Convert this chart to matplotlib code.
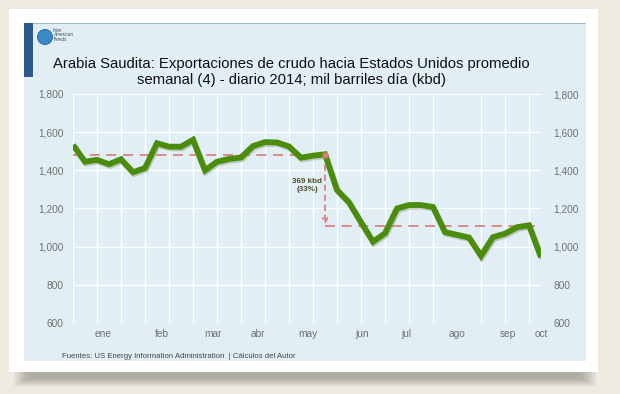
import matplotlib
matplotlib.use("Agg")
import matplotlib.pyplot as plt
import matplotlib.patches as mpatches
import matplotlib.patheffects as pe
import numpy as np

plt.rcParams['font.family'] = ['Liberation Sans', 'DejaVu Sans']

# ---- data ----
weekly_kbd = [1533, 1445, 1455, 1432, 1458, 1390, 1412, 1542, 1524, 1524,
              1560, 1400, 1445, 1460, 1467, 1527, 1548, 1546, 1525, 1466,
              1477, 1484, 1297, 1232, 1128, 1026, 1070, 1200, 1218, 1218,
              1208, 1076, 1062, 1048, 952, 1050, 1068, 1102, 1112, 945]
month_labels = ['ene', 'feb', 'mar', 'abr', 'may', 'jun', 'jul', 'ago', 'sep', 'oct']
month_pos = [2.5, 7.4, 11.7, 15.4, 19.6, 24.1, 27.8, 32.0, 36.2, 39.0]
y_ticks = [600, 800, 1000, 1200, 1400, 1600, 1800]
avg_before = 1479
avg_after = 1110
break_idx = 21
title = ("Arabia Saudita: Exportaciones de crudo hacia Estados Unidos promedio\n"
         "semanal (4) - diario 2014; mil barriles día (kbd)")
note = "369 kbd\n(33%)"
source = "Fuentes: US Energy Information Administration  | Cálculos del Autor"

W, H = 620, 394
fig = plt.figure(figsize=(W / 100, H / 100), dpi=100)
fig.patch.set_facecolor('#eeeae0')

def rect(x0, y0, x1, y1, **kw):
    # pixel coords with y from top
    r = mpatches.Rectangle((x0 / W, 1 - y1 / H), (x1 - x0) / W, (y1 - y0) / H,
                           transform=fig.transFigure, **kw)
    fig.patches.append(r)
    return r

# card shadow (soft)
for i in range(8):
    rect(14 + 2 * i, 368, 596 - 2 * i, 386 - i, facecolor='#6a6a6a', alpha=0.07,
         edgecolor='none', zorder=0)
rect(9, 9, 598, 372, facecolor='white', edgecolor='none', zorder=1)
rect(24, 23, 586, 361, facecolor='#e1eff5', edgecolor='none', zorder=2)
rect(24, 23, 586, 24, facecolor='#9fb6cc', edgecolor='none', zorder=3)
rect(24, 23, 33, 77, facecolor='#2b5a8a', edgecolor='none', zorder=3)

# logo
logo = mpatches.Ellipse((45 / W, 1 - 37 / H), 15 / W, 15 / H, transform=fig.transFigure,
                        facecolor='#3a8ac8', edgecolor='#1f5d94', lw=0.6, zorder=4)
fig.patches.append(logo)
fig.text(53 / W, 1 - 35 / H, "Inter\nAmerican\nTrends", fontsize=3.4, style='italic',
         color='#3a4a60', va='center', ha='left', linespacing=0.95, zorder=5)

# title
fig.text(291 / W, 1 - 72 / H, title, ha='center', va='center', fontsize=10.7,
         color='#111111', linespacing=1.2, zorder=5)

# axes
ax_l, ax_r, ax_t, ax_b = 73, 541, 94, 323
ax = fig.add_axes([ax_l / W, 1 - ax_b / H, (ax_r - ax_l) / W, (ax_b - ax_t) / H], zorder=6)
ax.set_facecolor('none')
x = np.arange(len(weekly_kbd))
ax.set_xlim(0, len(weekly_kbd) - 1)
ax.set_ylim(600, 1800)
ax.set_yticks(y_ticks)
ax.set_xticks(np.arange(0, len(weekly_kbd), 2), minor=True)
ax.set_xticks(month_pos)
ax.set_xticklabels(month_labels)
ax.grid(axis='y', color='white', lw=0.9)
ax.grid(axis='x', which='minor', color='white', lw=0.9)
for s in ax.spines.values():
    s.set_visible(False)
fmt = matplotlib.ticker.FuncFormatter(lambda v, p: f"{int(v):,}")
ax.tick_params(axis='both', which='both', length=0, labelsize=7.3, labelcolor='#707070')
ax.tick_params(axis='x', pad=4)
ax.tick_params(axis='y', pad=7)
ax.yaxis.set_major_formatter(fmt)
ax.set_axisbelow(True)

ax2 = ax.twinx()
ax2.set_ylim(600, 1800)
ax2.set_yticks(y_ticks)
ax2.yaxis.set_major_formatter(fmt)
ax2.tick_params(axis='y', length=0, labelsize=7.3, labelcolor='#707070', pad=9)
for s in ax2.spines.values():
    s.set_visible(False)

# reference lines
dash_col = '#d97a78'
ax.plot([0, break_idx], [avg_before, avg_before], color=dash_col, lw=1.2, ls=(0, (6, 4)), zorder=2)
ax.plot([break_idx, len(weekly_kbd) - 1], [avg_after, avg_after], color=dash_col, lw=1.2,
        ls=(0, (6, 4)), zorder=2)
ax.annotate('', xy=(break_idx, avg_after + 5), xytext=(break_idx, avg_before),
            arrowprops=dict(arrowstyle='->', color=dash_col, lw=1.2, ls=(0, (3, 3)),
                            shrinkA=0, shrinkB=0, mutation_scale=9), zorder=2)

# main line
ax.plot(x, weekly_kbd, color='#4b8c0c', lw=4.2, solid_joinstyle='miter', solid_capstyle='butt',
        zorder=4, path_effects=[pe.SimpleLineShadow(offset=(0.8, -1.2), shadow_color='#6b7a50', alpha=0.35),
                                pe.Normal()])
ax.plot([break_idx], [avg_before], 'o', color=dash_col, ms=3.5, zorder=5)

ax.text(break_idx - 1.5, (avg_before + avg_after) / 2 + 25, note, ha='center', va='center',
        fontsize=5.8, color='#4f4f28', fontweight='bold', linespacing=1.3, zorder=5)

fig.text(62 / W, 1 - 357 / H, source, fontsize=5.6, color='#444444', va='center', ha='left', zorder=5)

fig.savefig('out.png', dpi=100, facecolor=fig.get_facecolor())
